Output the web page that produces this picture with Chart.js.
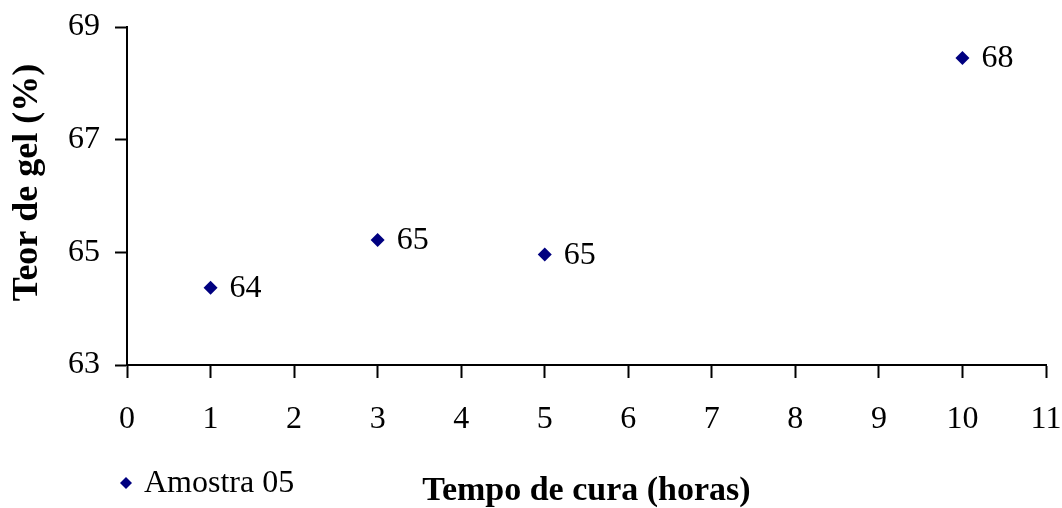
<!DOCTYPE html>
<html>
<head>
<meta charset="utf-8">
<script src="https://cdn.jsdelivr.net/npm/chart.js@4/dist/chart.umd.min.js"></script>
<style>
    html, body { margin: 0; padding: 0; background: #fff; }
</style>
</head>
<body>
<canvas id="myChart" width="1062" height="508"></canvas>
<script>
// data
const hours = [1, 3, 5, 10];
const gelContent = [64.37, 65.22, 64.96, 68.45];
const seriesName = "Amostra 05";
const xTitle = "Tempo de cura (horas)";
const yTitle = "   Teor de gel (%)"; // leading spaces nudge it above centre like the original

const serif = "'Liberation Serif', 'Times New Roman', serif";
const navy = "#000080";

// value labels to the right of each point
const valueLabels = {
    id: "valueLabels",
    afterDatasetsDraw(chart) {
        const ctx = chart.ctx;
        const meta = chart.getDatasetMeta(0);
        ctx.save();
        ctx.font = "32px " + serif;
        ctx.fillStyle = "#000";
        ctx.textBaseline = "middle";
        meta.data.forEach((pt, i) => {
            ctx.fillText(String(Math.round(gelContent[i])), pt.x + 19, pt.y + 1);
        });
        ctx.restore();
    },
};

// legend sits bottom-left, on the same line as the x title
const cornerLegend = {
    id: "cornerLegend",
    afterDraw(chart) {
        const ctx = chart.ctx;
        const ds = chart.data.datasets[0];
        const x = chart.chartArea.left - 1;
        const y = chart.height - 25;
        ctx.save();
        ctx.fillStyle = ds.backgroundColor;
        ctx.beginPath();
        ctx.moveTo(x, y - 6);
        ctx.lineTo(x + 6, y);
        ctx.lineTo(x, y + 6);
        ctx.lineTo(x - 6, y);
        ctx.closePath();
        ctx.fill();
        ctx.font = "32px " + serif;
        ctx.fillStyle = "#000";
        ctx.textBaseline = "middle";
        ctx.fillText(ds.label, x + 18, y + 1);
        ctx.restore();
    },
};

const ctx = document.getElementById("myChart").getContext("2d");
const myChart = new Chart(ctx, {
    type: "scatter",
    data: {
        datasets: [
            {
                label: seriesName,
                data: hours.map((h, i) => ({ x: h, y: gelContent[i] })),
                backgroundColor: navy,
                borderColor: navy,
                pointStyle: "rectRot",
                pointRadius: 7,
                pointBorderWidth: 0,
            },
        ],
    },
    options: {
        responsive: false,
        animation: false,
        layout: { padding: { left: 0, top: 27, right: 16, bottom: 0 } },
        plugins: {
            legend: { display: false },
            tooltip: { enabled: false },
        },
        scales: {
            x: {
                type: "linear",
                min: 0,
                max: 11,
                afterFit: (scale) => {
                    scale.height = 143;
                    scale.paddingLeft = 0;
                    scale.paddingRight = 0;
                },
                border: { color: "#000", width: 2 },
                grid: {
                    drawOnChartArea: false,
                    color: "#000",
                    tickLength: 13,
                    tickWidth: 2,
                },
                ticks: {
                    stepSize: 1,
                    padding: 22,
                    color: "#000",
                    font: { family: serif, size: 32 },
                },
                title: {
                    display: true,
                    text: xTitle,
                    color: "#000",
                    padding: 0,
                    font: { family: serif, size: 34, weight: "bold", lineHeight: 1 },
                },
            },
            y: {
                min: 63,
                max: 69,
                afterFit: (scale) => {
                    scale.width = 127;
                    scale.paddingTop = 0;
                    scale.paddingBottom = 0;
                },
                border: { color: "#000", width: 2 },
                grid: {
                    drawOnChartArea: false,
                    color: "#000",
                    tickLength: 12,
                    tickWidth: 2,
                },
                ticks: {
                    stepSize: 2,
                    padding: 15,
                    color: "#000",
                    font: { family: serif, size: 32 },
                },
                title: {
                    display: true,
                    text: yTitle,
                    color: "#000",
                    padding: { top: 10, bottom: 0 },
                    font: { family: serif, size: 36, weight: "bold", lineHeight: 1 },
                },
            },
        },
    },
    plugins: [valueLabels, cornerLegend],
});
</script>
</body>
</html>
